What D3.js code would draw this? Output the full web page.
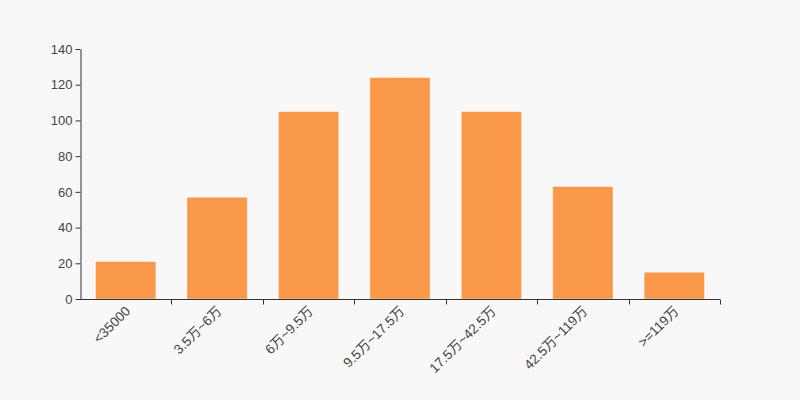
<!DOCTYPE html>
<html>
<head>
<meta charset="utf-8">
<script src="https://cdn.jsdelivr.net/npm/d3@7"></script>
<style>
	body { margin: 0; background: #f8f8f8; }
	svg text { font-family: "Liberation Sans", Arial, "Noto Sans CJK SC", sans-serif; }
</style>
</head>
<body>
<svg id="chart" width="800" height="400"></svg>
<script>
// DATA
const categories = ['<35000', '3.5万~6万', '6万~9.5万', '9.5万~17.5万', '17.5万~42.5万', '42.5万~119万', '>=119万']
const counts = [21, 57, 105, 124, 105, 63, 15]
const yTicks = [0, 20, 40, 60, 80, 100, 120, 140]

const width = 800
const height = 400
const margin = { top: 49, right: 80, bottom: 101, left: 80 }

const svg = d3.select('svg#chart')
svg.append('rect')
	.attr('width', width)
	.attr('height', height)
	.attr('fill', '#f8f8f8')

const x = d3.scaleBand()
	.domain(categories)
	.range([margin.left, width - margin.right])
	.paddingInner(0.34)
	.paddingOuter(0.17)

const y = d3.scaleLinear()
	.domain([0, 140])
	.range([height - margin.bottom, margin.top])

// BARS
svg.append('g')
	.selectAll('rect')
	.data(counts)
	.join('rect')
	.attr('x', (d, i) => x(categories[i]))
	.attr('y', d => y(d))
	.attr('width', x.bandwidth())
	.attr('height', d => y(0) - y(d))
	.attr('fill', '#f89848')
	.attr('stroke', 'rgba(255,255,255,0.45)')
	.attr('stroke-width', 1)

// X AXIS (ticks on band boundaries)
const xBounds = d3.scaleLinear()
	.domain([0, categories.length])
	.range([margin.left, width - margin.right])

const gx = svg.append('g')
	.attr('transform', `translate(0,${y(0) + 0.5})`)
gx.append('line')
	.attr('x1', margin.left)
	.attr('x2', width - margin.right)
	.attr('stroke', '#333')
gx.selectAll('line.tick')
	.data(d3.range(1, categories.length + 1))
	.join('line')
	.attr('class', 'tick')
	.attr('x1', d => Math.round(xBounds(d)) + 0.5)
	.attr('x2', d => Math.round(xBounds(d)) + 0.5)
	.attr('y1', 0)
	.attr('y2', 5)
	.attr('stroke', '#333')
gx.selectAll('text')
	.data(categories)
	.join('text')
	.attr('transform', d => `translate(${x(d) + x.bandwidth() / 2 + 2},9) rotate(-45)`)
	.attr('text-anchor', 'end')
	.attr('dy', '0.35em')
	.attr('font-size', 13.5)
	.attr('fill', '#444')
	.text(d => d)

// Y AXIS
const gy = svg.append('g')
	.attr('transform', `translate(${margin.left + 0.5},0)`)
	.call(d3.axisLeft(y).tickValues(yTicks).tickSize(5).tickSizeOuter(0))
gy.select('.domain').attr('stroke', '#333')
gy.selectAll('.tick line').attr('stroke', '#333')
gy.selectAll('.tick text')
	.attr('font-size', 13)
	.attr('font-family', '"Liberation Sans", Arial, sans-serif')
	.attr('fill', '#444')
	.attr('x', -8)
</script>
</body>
</html>
